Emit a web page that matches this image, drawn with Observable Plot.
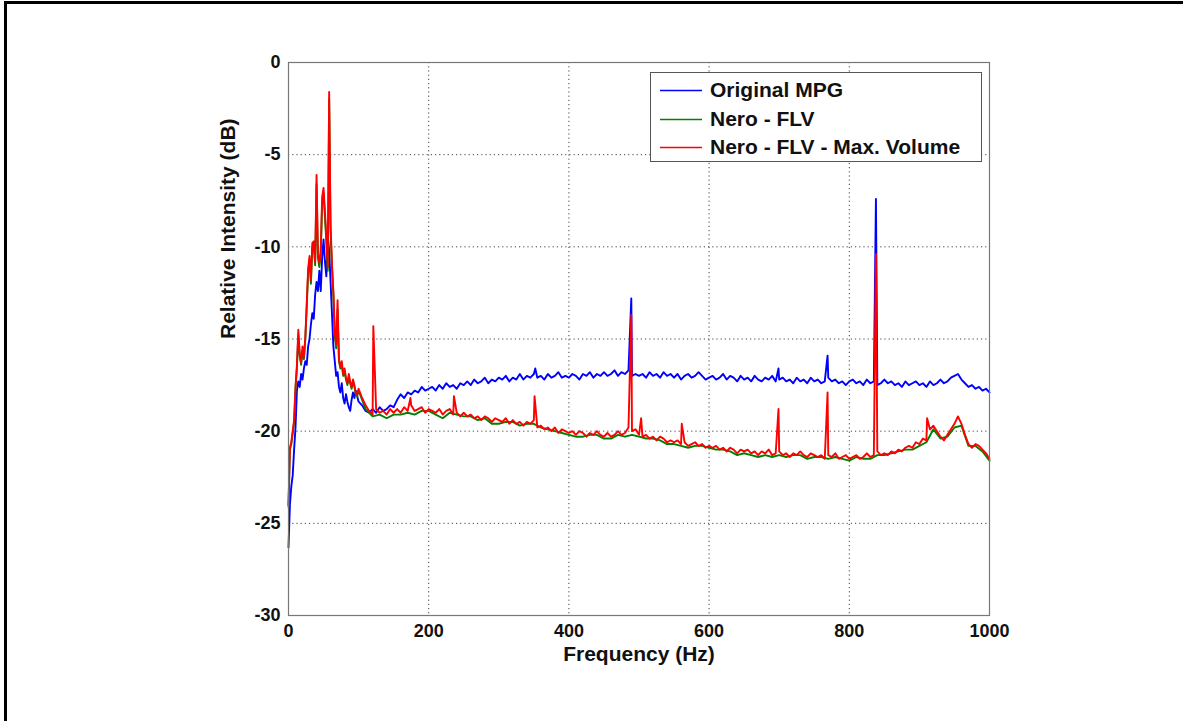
<!DOCTYPE html>
<html>
<head>
<meta charset="utf-8">
<script src="https://cdn.jsdelivr.net/npm/d3@7"></script>
<script src="https://cdn.jsdelivr.net/npm/@observablehq/plot@0.6"></script>
<style>
  html, body { margin: 0; padding: 0; background: #fff; overflow: hidden; }
  #wrap { position: relative; width: 1183px; height: 721px; overflow: hidden; }
  #outer { position: absolute; left: 4px; top: 1px; width: 1300px; height: 800px;
           border-top: 3px solid #000; border-left: 3px solid #000; pointer-events: none; }
  #legend { position: absolute; left: 650px; top: 72px; width: 330px; height: 88px;
            border: 1px solid #555; background: #fff;
            font-family: "Liberation Sans", Arial, sans-serif; font-weight: bold; font-size: 21px; color: #111; }
  .row { position: absolute; left: 0; height: 28px; width: 330px; }
  .row svg { position: absolute; left: 9px; top: 13px; }
  .row span { position: absolute; left: 59px; top: 2px; white-space: nowrap; }
</style>
</head>
<body>
<div id="wrap">
  <div id="chart"></div>
  <div id="legend"></div>
  <div id="outer"></div>
</div>
<script>
// ---- Data ----
const seriesNames = ["Original MPG", "Nero - FLV", "Nero - FLV - Max. Volume"];
const seriesColors = ["#0000ff", "#008000", "#ff0000"];
const xTicks = [0, 200, 400, 600, 800, 1000];
const yTicks = [-30, -25, -20, -15, -10, -5, 0];

// frequency grids (Hz)
const lowFreq = d3.range(0, 101, 2);        // 0..100 step 2
const highFreq = d3.range(105, 1001, 5);    // 105..1000 step 5
const greenHighFreq = d3.range(110, 1001, 10);

// Original MPG (blue)
const blueLow = [-26.3,-24.0,-23.0,-22.4,-21.0,-19.8,-17.8,-17.3,-17.6,-16.9,
  -17.2,-16.6,-16.2,-16.4,-15.4,-15.0,-14.2,-13.6,-13.9,-12.6,
  -11.9,-12.4,-11.3,-12.4,-10.6,-9.6,-10.8,-11.6,-9.4,-10.2,
  -11.9,-13.6,-15.4,-16.2,-17.0,-16.8,-17.6,-17.9,-17.4,-18.2,
  -18.5,-18.0,-18.4,-18.7,-18.9,-18.3,-17.9,-18.2,-17.8,-18.1,-18.4];
const blueHigh = [
  -18.6,-18.9,-19.0,-18.8,-19.0,-18.7,-18.9,-18.8,-18.6,-18.7,
  -18.3,-18.0,-18.2,-17.9,-18.0,-17.8,-17.9,-17.6,-17.8,-17.7,
  -17.6,-17.8,-17.5,-17.7,-17.4,-17.6,-17.5,-17.7,-17.4,-17.5,
  -17.3,-17.5,-17.2,-17.4,-17.3,-17.1,-17.4,-17.2,-17.3,-17.1,
  -17.2,-17.0,-17.3,-17.1,-17.2,-16.9,-17.2,-17.0,-17.1,-16.9,
  -17.1,-17.0,-17.2,-16.9,-17.1,-17.0,-16.8,-17.1,-17.0,-17.1,
  -16.9,-17.0,-17.2,-16.9,-17.0,-16.8,-17.1,-16.9,-17.0,-16.8,
  -17.0,-16.9,-16.7,-17.0,-16.8,-16.9,-16.7,-17.0,-16.9,-17.0,
  -16.9,-17.1,-16.8,-17.0,-16.9,-17.1,-16.8,-17.0,-16.9,-17.1,
  -16.9,-17.2,-17.0,-16.9,-17.1,-17.0,-16.8,-17.0,-17.2,-17.1,
  -17.0,-17.2,-17.1,-16.9,-17.2,-17.0,-17.1,-17.3,-17.0,-17.2,
  -17.1,-17.3,-17.0,-17.2,-17.3,-17.1,-17.2,-17.0,-17.3,-17.2,
  -17.1,-17.3,-17.2,-17.4,-17.1,-17.3,-17.2,-17.4,-17.1,-17.3,
  -17.2,-17.4,-17.3,-17.1,-17.3,-17.2,-17.4,-17.3,-17.5,-17.3,
  -17.2,-17.4,-17.3,-17.5,-17.2,-17.4,-17.3,-17.5,-17.4,-17.2,
  -17.4,-17.3,-17.5,-17.4,-17.6,-17.3,-17.5,-17.4,-17.3,-17.5,
  -17.4,-17.6,-17.3,-17.5,-17.4,-17.2,-17.4,-17.3,-17.1,-17.0,
  -16.9,-17.2,-17.4,-17.6,-17.5,-17.7,-17.6,-17.8,-17.7,-17.9];
const blueSpikeFreq = [352, 489, 699, 769, 838];
const blueSpikeVal = [-16.6, -12.8, -16.6, -15.9, -7.4];

// Nero - FLV (green)
const greenLow = [-24.0,-21.0,-20.7,-20.1,-19.5,-17.7,-16.6,-14.8,-15.9,-16.4,
  -15.6,-16.1,-15.0,-13.3,-11.4,-10.7,-12.0,-10.0,-9.9,-11.0,
  -6.6,-10.6,-11.1,-10.4,-7.6,-7.1,-8.4,-9.7,-11.3,-2.0,
  -9.1,-11.1,-12.6,-14.8,-15.5,-13.4,-16.2,-16.6,-16.4,-17.0,
  -16.8,-17.2,-17.5,-17.1,-17.4,-17.7,-17.3,-17.6,-18.0,-18.1,-17.8];
const greenHigh = [
  -18.8,-19.2,-19.1,-19.3,-19.1,-19.1,-19.0,-19.1,-18.9,-18.9,
  -19.1,-19.3,-19.0,-19.1,-19.2,-19.2,-19.4,-19.3,-19.6,-19.6,
  -19.5,-19.5,-19.7,-19.6,-19.6,-19.8,-19.9,-20.0,-20.1,-20.2,
  -20.3,-20.3,-20.2,-20.2,-20.4,-20.4,-20.2,-20.3,-20.2,-20.3,
  -20.4,-20.4,-20.5,-20.7,-20.7,-20.8,-20.9,-20.8,-20.8,-20.9,
  -21.0,-21.0,-21.1,-21.3,-21.2,-21.3,-21.4,-21.3,-21.4,-21.3,
  -21.4,-21.3,-21.3,-21.5,-21.4,-21.4,-21.5,-21.4,-21.5,-21.6,
  -21.4,-21.5,-21.5,-21.3,-21.3,-21.2,-21.1,-21.0,-21.0,-20.8,
  -20.6,-19.9,-20.4,-20.3,-19.8,-19.7,-20.8,-20.8,-21.1,-21.6];
const greenSpikeFreq = [];
const greenSpikeVal = [];

// Nero - FLV - Max. Volume (red)
const redLow = [-24.1,-20.9,-20.6,-20.0,-19.4,-17.6,-16.4,-14.5,-15.8,-16.3,
  -15.4,-16.0,-14.9,-13.1,-11.2,-10.5,-11.8,-9.8,-9.7,-10.8,
  -6.1,-10.4,-10.9,-10.2,-7.3,-6.8,-8.1,-9.5,-11.1,-1.6,
  -8.8,-10.9,-12.4,-14.6,-15.3,-12.9,-16.1,-16.5,-16.2,-16.9,
  -16.6,-17.1,-17.4,-16.9,-17.3,-17.6,-17.2,-17.5,-17.9,-18.0,-17.7];
const redHigh = [
  -18.2,-18.6,-18.9,-19.1,-18.8,-19.0,-18.9,-19.1,-18.8,-19.0,
  -18.8,-19.0,-18.7,-18.9,-18.6,-18.9,-18.8,-18.7,-19.0,-18.8,
  -18.9,-19.0,-18.8,-19.1,-18.9,-18.8,-19.1,-19.0,-19.2,-19.0,
  -19.2,-19.1,-19.3,-19.2,-19.4,-19.2,-19.3,-19.5,-19.3,-19.4,
  -19.5,-19.3,-19.6,-19.4,-19.6,-19.5,-19.7,-19.5,-19.6,-19.4,
  -19.8,-19.7,-19.9,-19.8,-20.0,-19.8,-20.1,-19.9,-20.0,-20.1,
  -20.0,-20.2,-20.0,-20.1,-20.3,-20.1,-20.2,-20.0,-20.2,-20.3,
  -20.1,-20.3,-20.2,-20.0,-20.2,-20.1,-19.8,-20.0,-19.9,-20.2,
  -20.3,-20.2,-20.4,-20.3,-20.5,-20.3,-20.4,-20.6,-20.5,-20.6,
  -20.5,-20.7,-20.6,-20.8,-20.7,-20.6,-20.8,-20.7,-20.9,-20.8,
  -20.9,-20.8,-21.0,-20.9,-21.1,-20.9,-21.0,-21.2,-21.0,-21.1,
  -21.0,-21.2,-21.1,-21.3,-21.1,-21.2,-21.0,-21.3,-21.2,-21.1,
  -21.3,-21.2,-21.4,-21.2,-21.3,-21.1,-21.3,-21.4,-21.2,-21.3,
  -21.4,-21.3,-21.5,-21.3,-21.4,-21.2,-21.5,-21.4,-21.3,-21.5,
  -21.4,-21.3,-21.5,-21.4,-21.2,-21.4,-21.3,-21.1,-21.3,-21.2,
  -21.3,-21.1,-21.2,-21.0,-21.1,-20.9,-20.8,-20.9,-20.6,-20.7,
  -20.4,-20.5,-19.9,-19.7,-20.0,-20.3,-20.5,-20.2,-19.9,-19.6,
  -19.2,-19.6,-20.2,-20.7,-20.9,-20.7,-20.8,-21.0,-21.2,-21.5];
const redSpikeFreq = [121, 174, 236, 351, 489, 503, 561, 699, 769, 838, 911];
const redSpikeVal = [-14.3, -18.2, -18.1, -18.1, -13.7, -19.3, -19.6, -18.8, -17.9, -10.4, -19.3];

// ---- Build tables ----
function build(name, freqs, vals) {
  const rows = [];
  freqs.forEach((fs, k) => fs.forEach((f, i) => rows.push({series: name, f, v: vals[k][i]})));
  rows.sort((a, b) => a.f - b.f);
  return rows;
}
const blue = build(seriesNames[0], [lowFreq, highFreq, blueSpikeFreq], [blueLow, blueHigh, blueSpikeVal]);
const green = build(seriesNames[1], [lowFreq, greenHighFreq, greenSpikeFreq], [greenLow, greenHigh, greenSpikeVal]);
const red = build(seriesNames[2], [lowFreq, highFreq, redSpikeFreq], [redLow, redHigh, redSpikeVal]);

const W = 1183, H = 721;
const fmt = d => String(d);
const chart = Plot.plot({
  width: W, height: H,
  marginLeft: 288, marginRight: W - 989, marginTop: 62, marginBottom: H - 615,
  style: {fontFamily: "'Liberation Sans', Arial, sans-serif", fontSize: "18px", fontWeight: "bold", color: "#111", background: "transparent"},
  x: {domain: [0, 1000], ticks: xTicks, tickFormat: fmt, tickSize: 0, tickPadding: 9, label: null},
  y: {domain: [-30, 0], ticks: yTicks, tickFormat: fmt, tickSize: 0, tickPadding: 8, label: null},
  marks: [
    Plot.ruleX(xTicks.slice(1, -1), {stroke: "#444", strokeDasharray: "1.2,3", strokeWidth: 1}),
    Plot.ruleY(yTicks.slice(1, -1), {stroke: "#444", strokeDasharray: "1.2,3", strokeWidth: 1}),
    Plot.line(blue, {x: "f", y: "v", stroke: seriesColors[0], strokeWidth: 1.9}),
    Plot.line(green, {x: "f", y: "v", stroke: seriesColors[1], strokeWidth: 1.9}),
    Plot.line(red, {x: "f", y: "v", stroke: seriesColors[2], strokeWidth: 1.9}),
    Plot.frame({stroke: "#777", strokeWidth: 1.2}),
    Plot.text(["Frequency (Hz)"], {frameAnchor: "bottom", dy: 45, fontSize: 21, fontFamily: "'Liberation Sans', Arial, sans-serif", fontWeight: "bold", fill: "#111"}),
    Plot.text(["Relative Intensity (dB)"], {frameAnchor: "left", dx: -60, rotate: -90, fontSize: 21, fontFamily: "'Liberation Sans', Arial, sans-serif", fontWeight: "bold", fill: "#111"})
  ]
});
document.getElementById("chart").appendChild(chart);

// ---- Legend ----
const legend = document.getElementById("legend");
seriesNames.forEach((name, i) => {
  const row = document.createElement("div");
  row.className = "row";
  row.style.top = (3 + i * 28.5) + "px";
  row.innerHTML = `<svg width="42" height="3"><line x1="0" y1="1.5" x2="42" y2="1.5" stroke="${seriesColors[i]}" stroke-width="1.7"/></svg><span>${name}</span>`;
  legend.appendChild(row);
});
</script>
</body>
</html>
